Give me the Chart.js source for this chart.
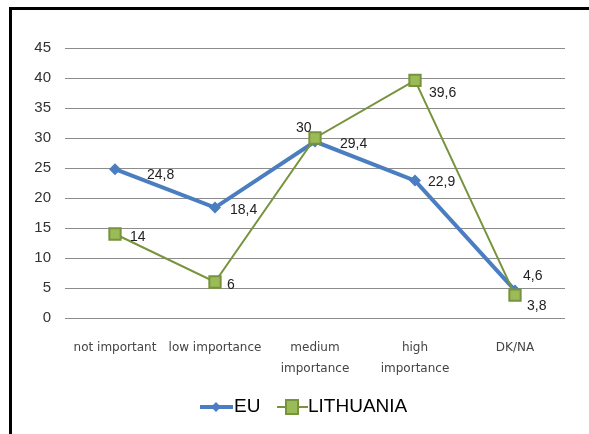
<!DOCTYPE html>
<html>
<head>
<meta charset="utf-8">
<script src="https://cdn.jsdelivr.net/npm/chart.js@4"></script>
<style>
  body { margin: 0; background: #fff; overflow: hidden; }
  .frame { position: absolute; left: 9px; top: 7px; width: 600px; height: 450px; border: 3px solid #000; }
  #chart { position: absolute; left: 0; top: 0; }
</style>
</head>
<body>
<div class="frame"></div>
<canvas id="chart" width="589" height="434"></canvas>
<script>
var categories = ["not important", "low importance", ["medium", "importance"], ["high", "importance"], "DK/NA"];
var euValues = [24.8, 18.4, 29.4, 22.9, 4.6];
var ltValues = [14, 6, 30, 39.6, 3.8];
var yTicks = [0, 5, 10, 15, 20, 25, 30, 35, 40, 45];

// label offsets from each point (dx, dy)
var euLabelOffsets = [[32, 6], [15, 3], [25, 3], [13, 2], [8, -14]];
var ltLabelOffsets = [[15, 3], [12, 3], [-19, -10], [14, 13], [12, 11]];

var valueLabels = {
  id: "valueLabels",
  afterDatasetsDraw: function (chart) {
    var ctx = chart.ctx;
    ctx.save();
    ctx.font = "14px 'Liberation Sans', Arial, sans-serif";
    ctx.fillStyle = "#222";
    ctx.textAlign = "left";
    ctx.textBaseline = "middle";
    chart.data.datasets.forEach(function (ds, i) {
      var meta = chart.getDatasetMeta(i);
      meta.data.forEach(function (pt, j) {
        var off = ds.labelOffsets[j];
        var txt = String(ds.data[j]).replace(".", ",");
        ctx.fillText(txt, pt.x + off[0], pt.y + off[1]);
      });
    });
    ctx.restore();
  }
};

var lineLegend = {
  id: "lineLegend",
  afterDraw: function (chart) {
    var ctx = chart.ctx;
    var y = 407;
    ctx.save();
    // EU
    ctx.strokeStyle = "#4A7EC0";
    ctx.lineWidth = 4;
    ctx.beginPath(); ctx.moveTo(200, y); ctx.lineTo(233, y); ctx.stroke();
    ctx.fillStyle = "#4A7EC0";
    ctx.beginPath(); ctx.moveTo(216, y - 5); ctx.lineTo(221, y); ctx.lineTo(216, y + 5); ctx.lineTo(211, y); ctx.closePath(); ctx.fill();
    // LITHUANIA
    ctx.strokeStyle = "#77933C";
    ctx.lineWidth = 2;
    ctx.beginPath(); ctx.moveTo(277, y); ctx.lineTo(308, y); ctx.stroke();
    ctx.fillStyle = "#9BBB59";
    ctx.fillRect(286, y - 7, 12, 14);
    ctx.strokeRect(286, y - 7, 12, 14);
    ctx.fillStyle = "#000";
    ctx.font = "19px 'Liberation Sans', Arial, sans-serif";
    ctx.textBaseline = "middle";
    ctx.fillText("EU", 234, y);
    ctx.fillText("LITHUANIA", 308, y);
    ctx.restore();
  }
};

var ctx = document.getElementById("chart");
var myChart = new Chart(ctx, {
  type: "line",
  data: {
    labels: categories,
    datasets: [
      {
        label: "EU",
        data: euValues,
        labelOffsets: euLabelOffsets,
        borderColor: "#4A7EC0",
        backgroundColor: "#4A7EC0",
        borderWidth: 4,
        pointStyle: "rectRot",
        pointRadius: 6,
        pointBorderWidth: 0,
        tension: 0,
        order: 1
      },
      {
        label: "LITHUANIA",
        data: ltValues,
        labelOffsets: ltLabelOffsets,
        borderColor: "#77933C",
        backgroundColor: "#9BBB59",
        borderWidth: 2,
        pointStyle: "rect",
        pointRadius: 8,
        pointBorderWidth: 2,
        pointBorderColor: "#77933C",
        tension: 0,
        order: 0
      }
    ]
  },
  options: {
    responsive: false,
    animation: false,
    layout: { padding: { left: 0, right: 24, top: 48, bottom: 56 } },
    plugins: {
      legend: { display: false },
      tooltip: { enabled: false }
    },
    scales: {
      x: {
        offset: true,
        grid: { display: false, drawTicks: false },
        border: { display: false },
        ticks: {
          padding: 19,
          color: "#444",
          font: { family: "'DejaVu Sans', sans-serif", size: 12, lineHeight: 1.75 },
          maxRotation: 0,
          autoSkip: false
        },
        afterFit: function (scale) { scale.height = 60; }
      },
      y: {
        min: 0,
        max: 45,
        afterBuildTicks: function (scale) {
          scale.ticks = yTicks.map(function (v) { return { value: v }; });
        },
        grid: { color: "#8c8c8c", lineWidth: 1, drawTicks: false },
        border: { display: false },
        ticks: {
          padding: 14,
          color: "#333",
          font: { family: "'Liberation Sans', Arial, sans-serif", size: 15 }
        },
        afterFit: function (scale) { scale.width = 65; }
      }
    }
  },
  plugins: [valueLabels, lineLegend]
});
</script>
</body>
</html>
